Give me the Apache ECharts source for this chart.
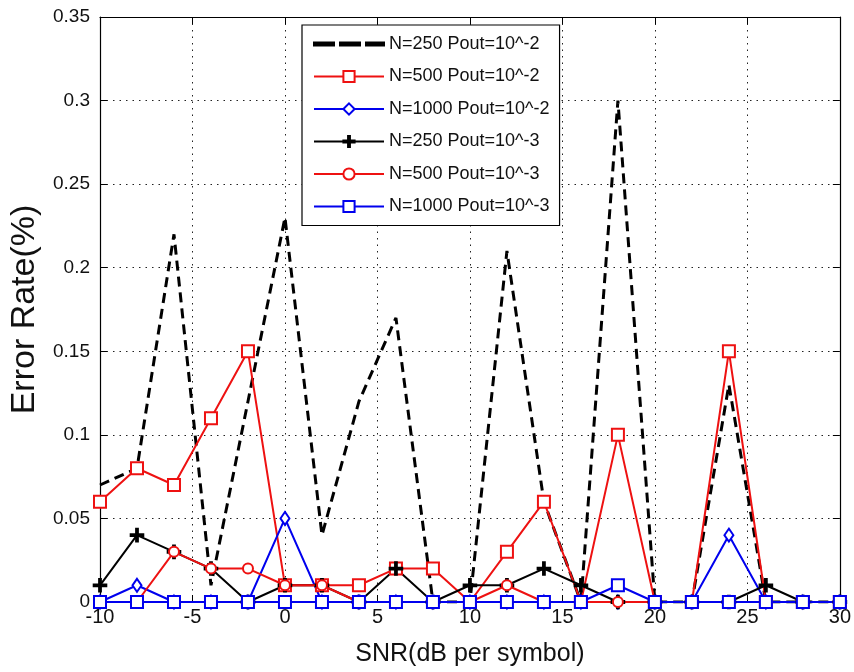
<!DOCTYPE html>
<html>
<head>
<meta charset="utf-8">
<script src="https://cdn.jsdelivr.net/npm/echarts@6/dist/echarts.min.js"></script>
<style>
  html, body { margin: 0; padding: 0; background: #fff; }
  #chart { width: 854px; height: 672px; }
</style>
</head>
<body>
<div id="chart"></div>
<script>
// SNR sweep (dB per symbol)
var snr = [-10, -8, -6, -4, -2, 0, 2, 4, 6, 8, 10, 12, 14, 16, 18, 20, 22, 24, 26, 28, 30];

// Error rate (%) per configuration
var n250p2  = [0.07, 0.08, 0.22, 0.01, 0.12, 0.23, 0.04, 0.12, 0.17, 0, 0, 0.21, 0.06, 0, 0.30, 0, 0, 0.13, 0, 0, 0];
var n500p2  = [0.06, 0.08, 0.07, 0.11, 0.15, 0.01, 0.01, 0.01, 0.02, 0.02, 0, 0.03, 0.06, 0, 0.10, 0, 0, 0.15, 0, 0, 0];
var n1000p2 = [0, 0.01, 0, 0, 0, 0.05, 0, 0, 0, 0, 0, 0, 0, 0, 0, 0, 0, 0.04, 0, 0, 0];
var n250p3  = [0.01, 0.04, 0.03, 0.02, 0, 0.01, 0.01, 0, 0.02, 0, 0.01, 0.01, 0.02, 0.01, 0, 0, 0, 0, 0.01, 0, 0];
var n500p3  = [0, 0, 0.03, 0.02, 0.02, 0.01, 0.01, 0, 0, 0, 0, 0.01, 0, 0, 0, 0, 0, 0, 0, 0, 0];
var n1000p3 = [0, 0, 0, 0, 0, 0, 0, 0, 0, 0, 0, 0, 0, 0, 0.01, 0, 0, 0, 0, 0, 0];

var seriesNames = [
  'N=250 Pout=10^-2', 'N=500 Pout=10^-2', 'N=1000 Pout=10^-2',
  'N=250 Pout=10^-3', 'N=500 Pout=10^-3', 'N=1000 Pout=10^-3'
];

var xTicks = { min: -10, max: 30, interval: 5 };
var yTicks = { min: 0, max: 0.35, interval: 0.05 };

var FONT = '"Liberation Sans", Arial, Helvetica, sans-serif';
var RED = '#ee1111', BLUE = '#0000ee', BLACK = '#000000';
var PLUS = 'path://M5,0H7V5H12V7H7V12H5V7H0V5H5Z';
// three dashes for the legend key of the dashed curve
var DASH_KEY = 'path://M0,0H20V3H0Z M26,0H46V3H26Z M52,0H70V3H52Z';

function pairs(ys) {
  return snr.map(function (x, i) { return [x, ys[i]]; });
}

function lineSeries(name, ys, color, symbol, size, dashed) {
  return {
    name: name,
    type: 'line',
    data: pairs(ys),
    xAxisIndex: 0,
    yAxisIndex: 0,
    symbol: symbol,
    symbolSize: size,
    showSymbol: symbol !== 'none',
    color: color,
    lineStyle: { color: color, width: dashed ? 3 : 2, type: dashed ? [10, 6] : 'solid' },
    itemStyle: { color: color, borderColor: color, borderWidth: 1.6 },
    emphasis: { disabled: true },
    animation: false
  };
}

var gridLine = { show: true, lineStyle: { color: '#222', width: 1, type: [1.5, 5] } };
var axisLineStyle = { show: true, onZero: false, lineStyle: { color: '#000', width: 1.2 } };
var tickInside = { show: true, inside: true, length: 7, lineStyle: { color: '#000', width: 1 } };

var legendData = seriesNames.map(function (n, i) {
  return i === 0 ? { name: n, icon: DASH_KEY, itemStyle: { color: BLACK } } : { name: n };
});

var chart = echarts.init(document.getElementById('chart'), null, { renderer: 'canvas' });
chart.setOption({
  backgroundColor: '#fff',
  animation: false,
  grid: { left: 100, right: 11, top: 17, bottom: 69, containLabel: false },
  xAxis: [{
    type: 'value', position: 'bottom',
    min: xTicks.min, max: xTicks.max, interval: xTicks.interval,
    name: 'SNR(dB per symbol)', nameLocation: 'middle', nameGap: 40,
    nameTextStyle: { fontFamily: FONT, fontSize: 25, color: '#111' },
    axisLine: axisLineStyle, axisTick: tickInside, splitLine: gridLine,
    axisLabel: { fontFamily: FONT, fontSize: 20, color: '#111', margin: 5 }
  }, {
    type: 'value', position: 'top',
    min: xTicks.min, max: xTicks.max, interval: xTicks.interval,
    axisLine: axisLineStyle, axisTick: tickInside,
    splitLine: { show: false }, axisLabel: { show: false }
  }],
  yAxis: [{
    type: 'value', position: 'left',
    min: yTicks.min, max: yTicks.max, interval: yTicks.interval,
    name: 'Error Rate(%)', nameLocation: 'middle', nameGap: 56,
    nameTextStyle: { fontFamily: FONT, fontSize: 34, color: '#111' },
    axisLine: axisLineStyle, axisTick: tickInside, splitLine: gridLine,
    axisLabel: { fontFamily: FONT, fontSize: 19, color: '#111', margin: 10 }
  }, {
    type: 'value', position: 'right',
    min: yTicks.min, max: yTicks.max, interval: yTicks.interval,
    axisLine: axisLineStyle, axisTick: tickInside,
    splitLine: { show: false }, axisLabel: { show: false }
  }],
  legend: {
    orient: 'vertical',
    left: 302, top: 25,
    padding: [10, 10, 10, 11],
    itemWidth: 70, itemHeight: 14, itemGap: 14.5,
    backgroundColor: '#fff',
    borderColor: '#000', borderWidth: 1.2,
    textStyle: { fontFamily: FONT, fontSize: 18, color: '#111', lineHeight: 18 },
    data: legendData
  },
  series: [
    lineSeries(seriesNames[0], n250p2, BLACK, 'none', 0, true),
    lineSeries(seriesNames[1], n500p2, RED, 'emptyRect', 12, false),
    lineSeries(seriesNames[2], n1000p2, BLUE, 'emptyDiamond', [9, 13], false),
    lineSeries(seriesNames[3], n250p3, BLACK, PLUS, 13, false),
    lineSeries(seriesNames[4], n500p3, RED, 'emptyCircle', 10, false),
    lineSeries(seriesNames[5], n1000p3, BLUE, 'emptyRect', 12, false)
  ]
});
</script>
</body>
</html>
